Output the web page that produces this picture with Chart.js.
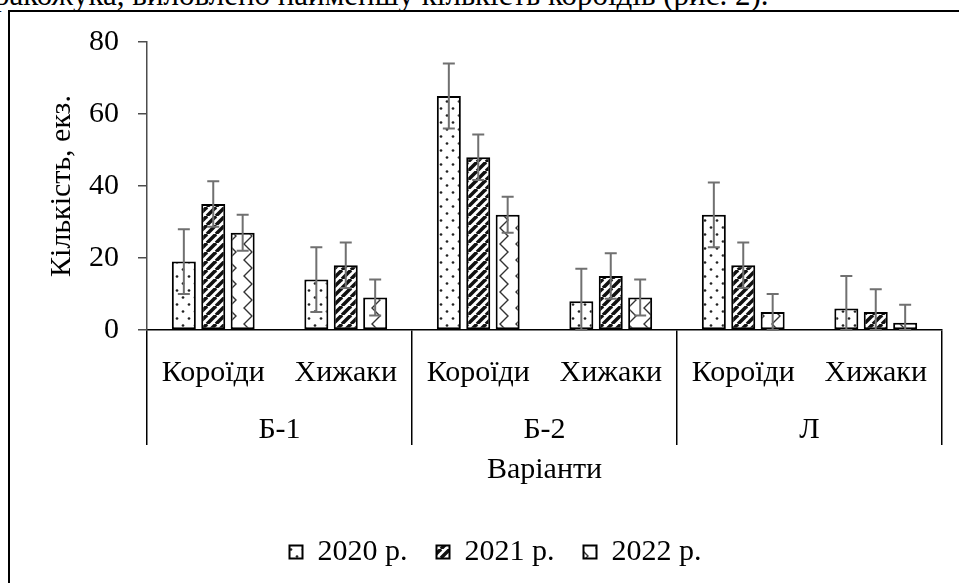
<!DOCTYPE html>
<html>
<head>
<meta charset="utf-8">
<script src="https://cdn.jsdelivr.net/npm/chart.js@4"></script>
<style>
html,body{margin:0;padding:0;background:#fff;overflow:hidden;width:959px;height:583px;}
#wrap{position:relative;width:959px;height:583px;overflow:hidden;}
#toptext{position:absolute;left:-6px;top:-21px;font-family:'Liberation Serif','Times New Roman',serif;font-size:31px;line-height:31px;white-space:nowrap;color:#000;}
#frame{position:absolute;left:8px;top:10px;width:2000px;height:2000px;border-left:2px solid #000;border-top:2px solid #000;}
#c{position:absolute;left:0;top:0;}
</style>
</head>
<body>
<div id="wrap">
  <div id="toptext">ракожука, виловлено найменшу кількість короїдів (рис. 2).</div>
  <div id="frame"></div>
  <canvas id="c" width="959" height="583"></canvas>
</div>
<script>
// ---- data ----
const subcategories = ['Короїди', 'Хижаки', 'Короїди', 'Хижаки', 'Короїди', 'Хижаки'];
const groups = ['Б-1', 'Б-2', 'Л'];
const seriesNames = ['2020 р.', '2021 р.', '2022 р.'];
const values2020 = [19, 14, 65, 8, 32, 6];
const values2021 = [35, 18, 48, 15, 18, 5];
const values2022 = [27, 9, 32, 9, 5, 2];
const errors2020 = [9, 9, 9, 9, 9, 9];
const errors2021 = [6.3, 6.3, 6.3, 6.3, 6.3, 6.3];
const errors2022 = [5, 5, 5, 5, 5, 5];
const yTicks = [0, 20, 40, 60, 80];
const yTitle = 'Кількість, екз.';
const xTitle = 'Варіанти';

// ---- patterns ----
function tile(w, h, draw) {
  const c = document.createElement('canvas');
  c.width = w; c.height = h;
  const g = c.getContext('2d');
  g.fillStyle = '#fff';
  g.fillRect(0, 0, w, h);
  draw(g);
  return g.createPattern(c, 'repeat');
}
const dotsPattern = tile(12, 14, g => {
  g.fillStyle = '#222';
  [[3, 3.5], [9, 10.5]].forEach(([x, y]) => { g.beginPath(); g.arc(x, y, 1.35, 0, Math.PI * 2); g.fill(); });
});
const stripePattern = tile(9, 9, g => {
  g.strokeStyle = '#111';
  g.lineWidth = 3.5;
  [-9, 0, 9].forEach(o => { g.beginPath(); g.moveTo(o, 9); g.lineTo(o + 9, 0); g.stroke(); });
});
const zigzagPattern = tile(16, 16, g => {
  g.strokeStyle = '#333';
  g.lineWidth = 1.4;
  g.beginPath();
  g.moveTo(12, -4); g.lineTo(4, 4); g.lineTo(12, 12); g.lineTo(4, 20);
  g.stroke();
});

const FONT = 'Liberation Serif';

const errorBarPlugin = {
  id: 'errorBars',
  afterDatasetsDraw(chart) {
    const ctx = chart.ctx;
    const y = chart.scales.y;
    chart.data.datasets.forEach((ds, di) => {
      const meta = chart.getDatasetMeta(di);
      if (meta.hidden) return;
      meta.data.forEach((bar, i) => {
        const v = ds.data[i], e = ds.errors[i];
        const yt = y.getPixelForValue(v + e);
        const yb = y.getPixelForValue(Math.max(0, v - e));
        const x = bar.x, cap = 6;
        ctx.save();
        ctx.strokeStyle = '#707070';
        ctx.lineWidth = 2;
        ctx.beginPath();
        ctx.moveTo(x, yt); ctx.lineTo(x, yb);
        ctx.moveTo(x - cap, yt); ctx.lineTo(x + cap, yt);
        ctx.moveTo(x - cap, yb); ctx.lineTo(x + cap, yb);
        ctx.stroke();
        ctx.restore();
      });
    });
  }
};

const commonBar = { borderColor: '#000', borderWidth: 2, borderSkipped: false, categoryPercentage: 0.666, barPercentage: 0.816 };

new Chart(document.getElementById('c'), {
  type: 'bar',
  data: {
    labels: subcategories,
    datasets: [
      Object.assign({ label: seriesNames[0], data: values2020, errors: errors2020, backgroundColor: dotsPattern }, commonBar),
      Object.assign({ label: seriesNames[1], data: values2021, errors: errors2021, backgroundColor: stripePattern }, commonBar),
      Object.assign({ label: seriesNames[2], data: values2022, errors: errors2022, backgroundColor: zigzagPattern }, commonBar)
    ]
  },
  options: {
    responsive: false,
    animation: false,
    devicePixelRatio: 1,
    layout: { padding: { left: 49, right: 17, top: 42, bottom: 6 } },
    plugins: {
      tooltip: { enabled: false },
      legend: {
        position: 'bottom',
        labels: { font: { family: FONT, size: 30 }, color: '#000', boxWidth: 13, boxHeight: 13, padding: 29 }
      }
    },
    scales: {
      x: {
        type: 'category',
        weight: 0,
        offset: true,
        grid: {
          display: true, offset: true, drawOnChartArea: false, drawTicks: true, tickLength: 115, lineWidth: 1.5,
          color: ctx => (ctx.index === undefined || ctx.index % 2 === 0) ? '#000' : 'rgba(0,0,0,0)'
        },
        border: { display: true, color: '#000', width: 1.5 },
        ticks: { font: { family: FONT, size: 30 }, color: '#000', padding: -90, maxRotation: 0, minRotation: 0, autoSkip: false },
        afterFit(s) { s.height = 75; }
      },
      x2: {
        type: 'category',
        labels: groups,
        position: 'bottom',
        weight: 1,
        offset: true,
        grid: { display: false, drawTicks: false, drawOnChartArea: false },
        border: { display: false },
        ticks: { font: { family: FONT, size: 30 }, color: '#000', padding: 7, maxRotation: 0, minRotation: 0, autoSkip: false },
        title: { display: true, text: xTitle, font: { family: FONT, size: 30 }, color: '#000', padding: { top: 0, bottom: 20 } },
        afterFit(s) { s.height = 103; }
      },
      y: {
        min: 0, max: 80,
        afterBuildTicks(s) { s.ticks = yTicks.map(v => ({ value: v })); },
        grid: { display: true, drawOnChartArea: false, drawTicks: true, tickLength: 9, color: '#4d4d4d', lineWidth: 1.5 },
        border: { display: true, color: '#4d4d4d', width: 1.5 },
        ticks: { font: { family: FONT, size: 30 }, color: '#000', padding: 19 },
        title: { display: true, text: yTitle, font: { family: FONT, size: 30, lineHeight: 1 }, color: '#000', padding: { top: -2, bottom: 0 } },
        afterFit(s) { s.width = 98; }
      }
    }
  },
  plugins: [errorBarPlugin]
});
</script>
</body>
</html>
